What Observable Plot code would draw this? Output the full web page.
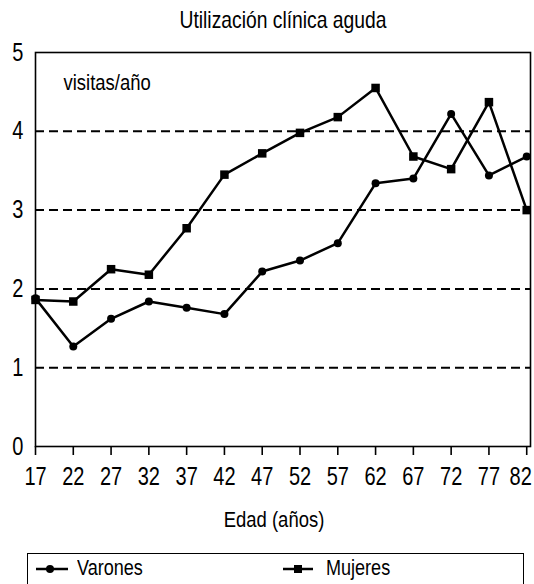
<!DOCTYPE html>
<html>
<head>
<meta charset="utf-8">
<script src="https://cdn.jsdelivr.net/npm/d3@7"></script>
<script src="https://cdn.jsdelivr.net/npm/@observablehq/plot@0.6"></script>
<style>
  body { margin: 0; background: #fff; font-family: "Liberation Sans", Arial, sans-serif; color: #000; }
  #chart svg { display: block; }
  .legend { position: relative; margin-left: 27px; margin-top: 13px; width: 497px; height: 44px; border: 1.5px solid #000; box-sizing: border-box; font-size: 22px; }
  .sym { position: absolute; top: 9px; }
  .lab { position: absolute; top: 1px; display: inline-block; transform: scaleX(0.82); transform-origin: left center; white-space: nowrap; }
</style>
</head>
<body>
<div id="chart"></div>
<div class="legend">
  <svg class="sym" style="left: 7px;" width="34" height="12"><line x1="1" y1="6" x2="33" y2="6" stroke="#000" stroke-width="2.5"/><circle cx="15" cy="6" r="4" fill="#000"/></svg>
  <span class="lab" style="left: 49px;">Varones</span>
  <svg class="sym" style="left: 254px;" width="32" height="12"><line x1="1" y1="6" x2="31" y2="6" stroke="#000" stroke-width="2.5"/><rect x="12" y="2" width="8" height="8" fill="#000"/></svg>
  <span class="lab" style="left: 298px;">Mujeres</span>
</div>
<script>
const ages = [17, 22, 27, 32, 37, 42, 47, 52, 57, 62, 67, 72, 77, 82];
const varones = [1.88, 1.27, 1.62, 1.84, 1.76, 1.68, 2.22, 2.36, 2.58, 3.34, 3.40, 4.22, 3.44, 3.68];
const mujeres = [1.86, 1.84, 2.25, 2.18, 2.77, 3.45, 3.72, 3.98, 4.18, 4.55, 3.68, 3.52, 4.37, 3.00];
const yTicks = [0, 1, 2, 3, 4, 5];
const gridValues = [1, 2, 3, 4];
const title = "Utilización clínica aguda";
const yLabel = "visitas/año";
const xLabel = "Edad (años)";

const vData = ages.map((a, i) => ({age: a, value: varones[i], serie: "Varones"}));
const mData = ages.map((a, i) => ({age: a, value: mujeres[i], serie: "Mujeres"}));
const lastAge = ages[ages.length - 1];

const chart = Plot.plot({
  width: 534,
  height: 540,
  marginTop: 52,
  marginBottom: 94,
  marginLeft: 35,
  marginRight: 4,
  style: {fontFamily: '"Liberation Sans", Arial, sans-serif', color: "#000", background: "#fff"},
  x: {domain: [17, 82.5]},
  y: {domain: [0, 5]},
  marks: [
    Plot.ruleY(gridValues, {stroke: "#000", strokeWidth: 2, strokeDasharray: "9,5"}),
    Plot.frame({stroke: "#000", strokeWidth: 1.6}),
    Plot.axisX({ticks: ages, tickSize: 9, tickPadding: 12, fontSize: 25, label: null, stroke: "#000", strokeWidth: 1.6,
      tickFormat: d => d === lastAge ? "" : String(d)}),
    Plot.axisX({ticks: [lastAge], tickSize: 0, tickPadding: 21, dx: -6, fontSize: 25, label: null, tickFormat: d => String(d)}),
    Plot.axisY({ticks: yTicks, tickSize: 0, tickPadding: 12, fontSize: 25, label: null, tickFormat: d => String(d)}),
    Plot.line(vData, {x: "age", y: "value", stroke: "#000", strokeWidth: 2.5}),
    Plot.line(mData, {x: "age", y: "value", stroke: "#000", strokeWidth: 2.5}),
    Plot.dot(vData, {x: "age", y: "value", r: 4, fill: "#000", symbol: "circle"}),
    Plot.dot(mData, {x: "age", y: "value", r: 4.8, fill: "#000", symbol: "square"}),
    Plot.text([title], {frameAnchor: "top", dy: -41, fontSize: 23, fill: "#000"}),
    Plot.text([yLabel], {frameAnchor: "top-left", dx: 28, dy: 22, textAnchor: "start", fontSize: 22, fill: "#000"}),
    Plot.text([xLabel], {frameAnchor: "bottom", dx: -9, dy: 80, fontSize: 22, fill: "#000"})
  ]
});
// condensed look: narrow each text around its own anchor point
d3.select(chart).selectAll("text").each(function() {
  const t = this.getAttribute("transform") || "";
  const s = this.closest("g[aria-label='x-axis tick label'], g[aria-label='y-axis tick label']") ? 0.8 : 0.84;
  this.setAttribute("transform", (t + ` scale(${s},1)`).trim());
});
document.getElementById("chart").appendChild(chart);
</script>
</body>
</html>
